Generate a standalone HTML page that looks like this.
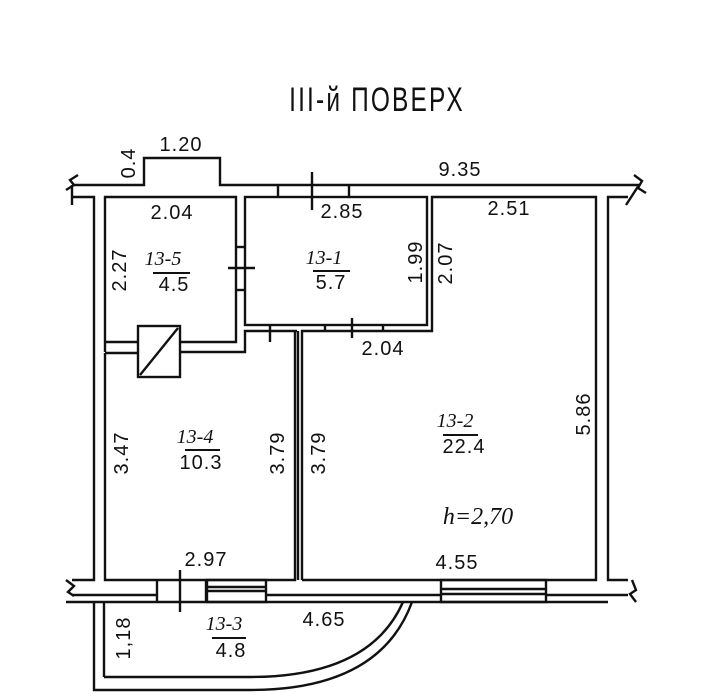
<!DOCTYPE html>
<html><head><meta charset="utf-8"><style>
html,body{margin:0;padding:0;background:#fff;}
svg{display:block;}
text{font-family:"Liberation Sans","DejaVu Sans",sans-serif;font-size:20px;fill:#111;text-anchor:middle;dominant-baseline:central;letter-spacing:1px;}
.h{font-family:"Liberation Serif",serif;font-style:italic;font-size:20px;letter-spacing:0;}
</style></head><body>
<svg width="710" height="699" viewBox="0 0 710 699" xmlns="http://www.w3.org/2000/svg">
<rect width="710" height="699" fill="#fff"/>
<g fill="none" stroke="#111" stroke-width="2.4">
<polyline points="72,185 144,185 144,158 220,158 220,185 639,185"/>
<polyline points="66,190 74,185 70,180 78,175"/>
<line x1="72" y1="185" x2="72" y2="205"/>
<polyline points="634,175 642,181 638,188 646,193"/>
<line x1="639" y1="185" x2="626" y2="205"/>
<polyline points="72,197 94,197 94,580 72,580"/>
<polyline points="66,580 74,586 68,592 74,596"/>
<polyline points="628,197 608,197 608,580 628,580"/>
<polyline points="632,580 636,590 630,594 636,602"/>
<polyline points="105,352 105,197 236,197 236,342 180,342"/>
<line x1="105" y1="342" x2="138" y2="342"/>
<rect x="245" y="197" width="182" height="128"/>
<polyline points="302,580 302,331 432,331 432,197 596,197 596,580 302,580"/>
<polyline points="180,352 245,352 245,331 297,331"/>
<polyline points="105,353 105,580 295,580 295,331"/>
<line x1="105" y1="353" x2="138" y2="353"/>
<line x1="298" y1="331" x2="298" y2="580"/>
<rect x="138" y="326" width="42" height="51"/>
<line x1="140" y1="375" x2="178" y2="328"/>
<line x1="236" y1="247" x2="245" y2="247"/>
<line x1="236" y1="290" x2="245" y2="290"/>
<line x1="228" y1="268" x2="255" y2="268"/>
<line x1="278" y1="185" x2="278" y2="197"/>
<line x1="349" y1="185" x2="349" y2="197"/>
<line x1="312" y1="172" x2="312" y2="210"/>
<line x1="325" y1="325" x2="325" y2="331"/>
<line x1="383" y1="325" x2="383" y2="331"/>
<line x1="352" y1="318" x2="352" y2="338"/>
<line x1="270" y1="324" x2="270" y2="342"/>
<line x1="66" y1="602" x2="608" y2="602"/>
<line x1="72" y1="595" x2="157" y2="595"/>
<line x1="266" y1="595" x2="441" y2="595"/>
<line x1="546" y1="595" x2="628" y2="595"/>
<line x1="157" y1="580" x2="157" y2="602"/>
<line x1="206" y1="580" x2="206" y2="602"/>
<line x1="180" y1="570" x2="180" y2="612"/>
<rect x="207" y="580" width="59" height="22"/>
<line x1="207" y1="587" x2="266" y2="587"/>
<line x1="207" y1="591" x2="266" y2="591"/>
<rect x="441" y="580" width="105" height="22"/>
<line x1="441" y1="589" x2="546" y2="589"/>
<line x1="441" y1="594" x2="546" y2="594"/>
<polyline points="94,602 94,690 250,690"/>
<line x1="104" y1="602" x2="104" y2="677"/>
<line x1="104" y1="677" x2="250" y2="677"/>
<path d="M250,690 Q380,690 412,602"/>
<path d="M250,677 Q370,677 403,602"/>
</g>
<text x="377" y="100" style="font-size:34px;letter-spacing:3px" transform="translate(377,100) scale(0.72,1) translate(-377,-100)">III-й ПОВЕРХ</text>
<text x="181" y="145">1.20</text>
<text x="129" y="163" transform="rotate(-90 129 163)">0.4</text>
<text x="460" y="170">9.35</text>
<text x="172" y="213">2.04</text>
<text x="342" y="212">2.85</text>
<text x="509" y="209">2.51</text>
<text x="120" y="270" transform="rotate(-90 120 270)">2.27</text>
<text class="h" x="163" y="259">13-5</text>
<line x1="153" y1="273" x2="190" y2="273" stroke="#111" stroke-width="2"/>
<text x="174" y="285">4.5</text>
<text class="h" x="324" y="258">13-1</text>
<line x1="313" y1="271" x2="350" y2="271" stroke="#111" stroke-width="2"/>
<text x="331" y="283">5.7</text>
<text x="416" y="262" transform="rotate(-90 416 262)">1.99</text>
<text x="446" y="263" transform="rotate(-90 446 263)">2.07</text>
<text x="383" y="349">2.04</text>
<text class="h" x="455" y="421">13-2</text>
<line x1="443" y1="435" x2="478" y2="435" stroke="#111" stroke-width="2"/>
<text x="464" y="447">22.4</text>
<text x="584" y="414" transform="rotate(-90 584 414)">5.86</text>
<text x="122" y="453" transform="rotate(-90 122 453)">3.47</text>
<text class="h" x="195" y="437">13-4</text>
<line x1="185" y1="450" x2="220" y2="450" stroke="#111" stroke-width="2"/>
<text x="201" y="463">10.3</text>
<text x="278" y="453" transform="rotate(-90 278 453)">3.79</text>
<text x="319" y="453" transform="rotate(-90 319 453)">3.79</text>
<text class="h" x="478" y="517" style="font-size:24px">h=2,70</text>
<text x="206" y="560">2.97</text>
<text x="457" y="563">4.55</text>
<text x="324" y="620">4.65</text>
<text class="h" x="224" y="624">13-3</text>
<line x1="212" y1="638" x2="246" y2="638" stroke="#111" stroke-width="2"/>
<text x="231" y="651">4.8</text>
<text x="124" y="638" transform="rotate(-90 124 638)">1,18</text>
</svg>
</body></html>
